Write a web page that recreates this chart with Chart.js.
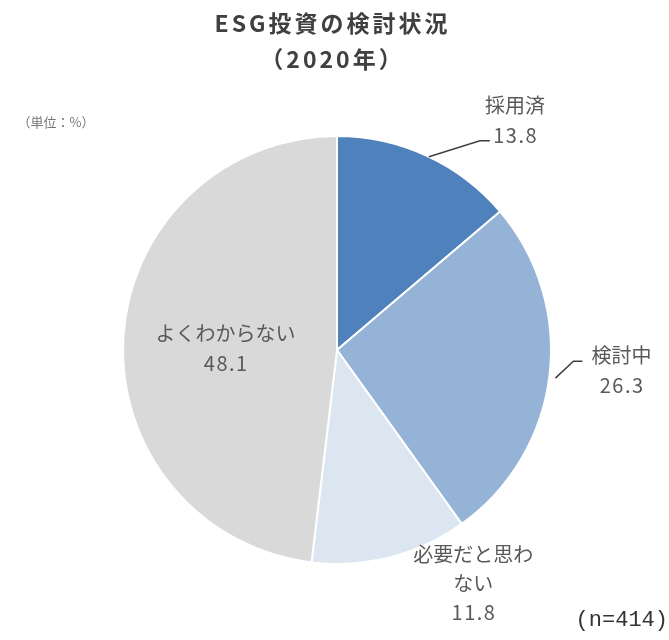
<!DOCTYPE html>
<html>
<head>
<meta charset="utf-8">
<script src="https://cdn.jsdelivr.net/npm/chart.js@4"></script>
<style>
  html, body { margin: 0; padding: 0; background: #fff; }
  #wrap { position: relative; width: 669px; height: 640px; }
</style>
</head>
<body>
<div id="wrap"><canvas id="esgPie" width="669" height="640"></canvas></div>
<script>
const categories = ["採用済", "検討中", "必要だと思わない", "よくわからない"];
const labelLines = [["採用済"], ["検討中"], ["必要だと思わ", "ない"], ["よくわからない"]];
const shares = [13.8, 26.3, 11.8, 48.1];
const sliceColors = ["#4f81bd", "#95b3d7", "#dce6f1", "#d9d9d9"];

const FONT = '"Noto Sans CJK JP", "Noto Sans", sans-serif';

// where each label sits, relative to a point on the slice (k = share of the radius)
const labelPlacement = [
    { k: 1.0, dx: 88, dy: -50, leader: [[2, 1], [53, -15], [63, -15]] },
    { k: 1.0, dx: 72, dy: -21, leader: [[6, 2], [24, -15], [33, -15]] },
    { k: 1.0, dx: 83, dy: -3, leader: null },
    { k: 0.55, dx: 6, dy: -10, leader: null },
];

function spacedText(ctx, text, x, y, spacing) {
    ctx.letterSpacing = spacing + "px";
    // letterSpacing adds a trailing gap, shift back half of it to keep centering
    ctx.fillText(text, x + spacing / 2, y);
    ctx.letterSpacing = "0px";
}

const labelPlugin = {
    id: "sliceLabels",
    afterDatasetsDraw(chart) {
        const ctx = chart.ctx;
        const arcs = chart.getDatasetMeta(0).data;

        ctx.save();
        ctx.textAlign = "center";
        ctx.textBaseline = "middle";

        arcs.forEach(function (arc, i) {
            const p = labelPlacement[i];
            const mid = (arc.startAngle + arc.endAngle) / 2;
            const r = arc.outerRadius * p.k;
            const ax = arc.x + Math.cos(mid) * r;
            const ay = arc.y + Math.sin(mid) * r;

            if (p.leader) {
                ctx.strokeStyle = "#404040";
                ctx.lineWidth = 1.5;
                ctx.beginPath();
                p.leader.forEach(function (pt, j) {
                    if (j === 0) ctx.moveTo(ax + pt[0], ay + pt[1]);
                    else ctx.lineTo(ax + pt[0], ay + pt[1]);
                });
                ctx.stroke();
            }

            ctx.fillStyle = "#595959";
            ctx.font = "20px " + FONT;
            const step = i === 2 ? 29 : 30;
            labelLines[i].forEach(function (line, j) {
                spacedText(ctx, line, ax + p.dx, ay + p.dy + j * step, 0);
            });
            spacedText(ctx, shares[i].toFixed(1), ax + p.dx, ay + p.dy + labelLines[i].length * step, 1.5);
        });

        // title
        ctx.fillStyle = "#404040";
        ctx.font = "bold 23px " + FONT;
        spacedText(ctx, "ESG投資の検討状況", 331, 23, 3);
        spacedText(ctx, "（2020年）", 331, 59, 3);

        // unit note and sample size
        ctx.fillStyle = "#777777";
        ctx.font = "13px " + FONT;
        ctx.fillText("（単位：%）", 56, 122);

        ctx.fillStyle = "#333333";
        ctx.font = '22px "Liberation Mono", "DejaVu Sans Mono", monospace';
        ctx.textAlign = "right";
        ctx.fillText("(n=414)", 668, 620);

        ctx.restore();
    },
};

new Chart(document.getElementById("esgPie").getContext("2d"), {
    type: "pie",
    data: {
        labels: categories,
        datasets: [
            {
                data: shares,
                backgroundColor: sliceColors,
                borderColor: "#ffffff",
                borderWidth: 2,
            },
        ],
    },
    options: {
        responsive: false,
        animation: false,
        layout: {
            padding: { top: 135, bottom: 75, left: 5, right: 0 },
        },
        plugins: {
            legend: { display: false },
            tooltip: { enabled: false },
            title: { display: false },
        },
    },
    plugins: [labelPlugin],
});
</script>
</body>
</html>
